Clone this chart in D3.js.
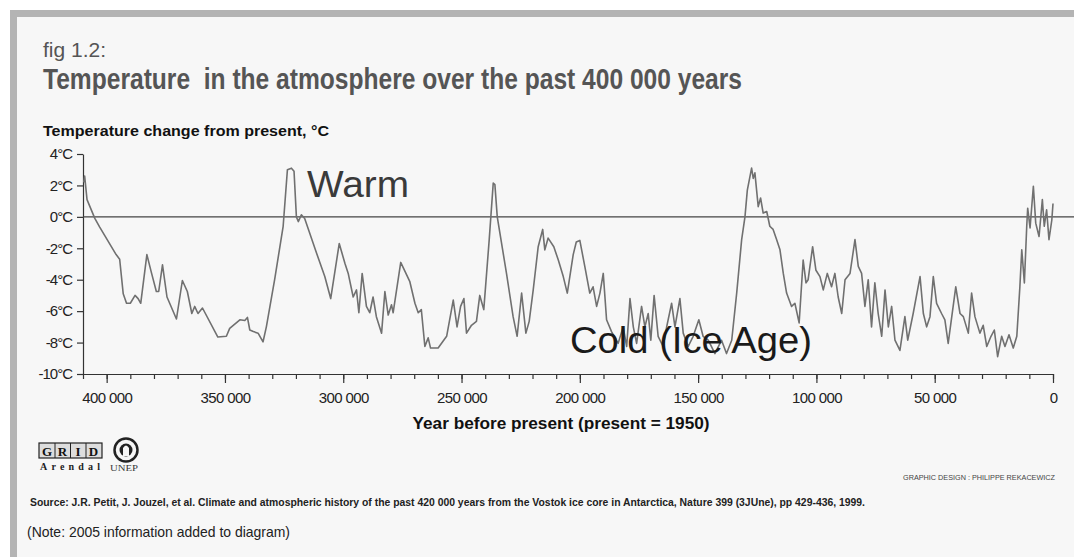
<!DOCTYPE html>
<html>
<head>
<meta charset="utf-8">
<script src="https://cdn.jsdelivr.net/npm/d3@7"></script>
<style>
  body { margin: 0; background: #fff; }
  svg { display: block; }
</style>
</head>
<body>
<svg id="grafica"></svg>
<script>
// Vostok ice core: temperature change from present
const svg_w = 1074;
const svg_h = 557;

// age in thousands of years before present
const ageKa = [409.7, 409.3, 408.3, 405, 403, 396, 394.5, 393, 391.6, 390, 388, 386.7, 385.6, 383, 381, 379, 378, 376.4, 374.5, 370.5,
  368, 365.9, 364, 362.8, 361.4, 359.5, 353, 349.4, 348, 343.7, 341.6, 340.5, 339.5, 338, 336, 333.9, 332.5, 329, 325.4, 323.6,
  321.9, 320.8, 319.8, 319, 317.7, 316.3, 311.3, 307.8, 305.3, 301.7, 299.3, 297.9, 295.8, 294.4, 293.4, 292, 290.2, 288.8, 287.4, 286,
  283.8, 282.4, 281, 279.6, 278.9, 275.7, 271.9, 269.7, 268.3, 267, 265.5, 264.1, 263.1, 259.9, 256.3, 253.5, 251.9, 250.4, 249, 247.9,
  245.8, 243.7, 242.3, 240.6, 238.3, 236.6, 235.9, 234.9, 231, 228.2, 226.5, 224.6, 222.8, 221.4, 219.7, 217.6, 215.7, 214.8, 213.4, 211,
  209.1, 207, 205.3, 202.8, 201.5, 200, 197.9, 195.8, 194.4, 192.9, 191.5, 190.1, 188.7, 186.6, 183.8, 181.7, 180.2, 178.8, 177.4, 176,
  173.9, 172.5, 171.1, 170, 168.6, 166.9, 164.8, 163.3, 161.2, 159.8, 157.7, 156.3, 154.2, 152.1, 149.7, 147.9, 145.7, 142.9, 140.1, 138,
  135.8, 133.7, 131.6, 130.2, 129.2, 127.4, 126.7, 126, 124.6, 123.6, 122.5, 121, 119.7, 118.3, 116.8, 115.4, 114, 112.6, 110.5, 109.1,
  107.3, 105.6, 104.4, 103.5, 101.6, 100.2, 98.5, 97.1, 95.4, 93.6, 92.2, 90.8, 89.3, 87.9, 85.8, 83.7, 82.3, 80.9, 79.5, 78.1,
  76.7, 75.3, 73.9, 72.4, 71, 69.6, 68.2, 66.8, 64.7, 62.6, 61.4, 59.1, 56.2, 54.8, 53.4, 52, 50.6, 49.2, 47.1, 45.7,
  44.3, 41.1, 39.3, 37.9, 35.8, 34.4, 33, 30.9, 29.5, 28, 26.2, 24.8, 23.4, 21.7, 20.3, 18.6, 16.8, 15.3, 14, 13.2,
  12.1, 11.1, 10.7, 9.7, 8.3, 7.3, 5.9, 4.5, 3.7, 2.7, 1.7, 0.5, 0];

// temperature change from present, °C
const tempC = [2.2, 2.6, 1.1, -0.1, -0.64, -2.4, -2.7, -4.9, -5.5, -5.5, -5.0, -5.2, -5.5, -2.4, -3.6, -4.75, -4.75, -3.05, -5.1, -6.5,
  -4.05, -4.75, -6.15, -5.7, -6.15, -5.8, -7.65, -7.6, -7.1, -6.55, -6.6, -6.4, -7.2, -7.3, -7.4, -7.95, -7.0, -4.0, -0.6, 3.0,
  3.1, 2.9, 0.0, -0.3, 0.13, -0.1, -2.3, -3.8, -5.2, -1.7, -2.95, -3.6, -5.1, -4.65, -6.1, -3.6, -5.7, -6.1, -5.1, -6.35,
  -7.4, -4.75, -6.25, -5.6, -6.1, -2.9, -4.1, -5.5, -6.1, -5.9, -8.25, -7.7, -8.35, -8.35, -7.6, -5.3, -7.0, -5.7, -5.2, -7.4,
  -6.9, -6.65, -5.0, -5.9, -1.45, 2.15, 2.05, 0, -3.6, -6.35, -7.6, -4.85, -7.4, -6.65, -4.65, -1.9, -0.8, -2.1, -1.35, -1.9,
  -2.75, -3.8, -4.85, -2.4, -1.6, -1.5, -3.15, -4.85, -4.45, -5.7, -4.85, -3.6, -6.55, -7.3, -8.05, -7.0, -8.25, -5.2, -7.0, -8.05,
  -5.7, -7.0, -6.15, -7.85, -5.0, -7.6, -8.25, -7.0, -5.5, -7.0, -5.2, -7.4, -8.25, -7.6, -6.55, -7.6, -7.85, -8.7, -7.85, -8.7,
  -7.85, -4.85, -1.45, 0, 1.7, 3.1, 2.45, 2.8, 0.65, 1.2, 0.24, 0.34, -0.6, -0.8, -1.45, -2.1, -3.6, -4.85, -5.7, -5.5,
  -6.75, -2.75, -4.2, -4.0, -1.9, -3.4, -3.8, -4.65, -3.6, -4.45, -3.6, -5.1, -6.15, -4.0, -3.6, -1.45, -3.15, -3.6, -5.7, -4.0,
  -7.0, -4.2, -6.15, -7.6, -4.65, -7.0, -5.7, -7.85, -8.5, -6.35, -7.85, -6.15, -3.8, -6.15, -7.0, -6.35, -3.8, -5.5, -6.15, -6.55,
  -8.05, -4.45, -6.15, -6.35, -7.4, -4.85, -6.35, -7.4, -6.9, -8.25, -7.6, -7.2, -8.9, -7.6, -8.25, -7.5, -8.35, -7.6, -4.45, -2.1,
  -4.2, -0.6, 0.55, -0.7, 1.95, -0.4, -1.25, 1.1, -0.6, 0.45, -1.45, -0.2, 0.85];

const yTicks = [4, 2, 0, -2, -4, -6, -8, -10];
const xMajorTicks = [400, 350, 300, 250, 200, 150, 100, 50, 0];
const xMinorTicks = d3.range(0, 411, 10);

const data = ageKa.map((a, i) => ({ka: a, t: tempC[i]}));

const svg = d3.select("#grafica")
  .attr("width", svg_w)
  .attr("height", svg_h)
  .style("font-family", "'Liberation Sans', Arial, sans-serif");

// frame
svg.append("rect").attr("x", 10).attr("y", 10).attr("width", svg_w - 10).attr("height", svg_h - 10).attr("fill", "#b4b4b4");
svg.append("rect").attr("x", 17).attr("y", 17).attr("width", svg_w - 17).attr("height", svg_h - 17).attr("fill", "#f7f7f7");

// titles
svg.append("text").attr("x", 43).attr("y", 57)
  .text("fig 1.2:")
  .attr("font-size", 21).attr("fill", "#555");

svg.append("text").attr("x", 43).attr("y", 89)
  .text("Temperature  in the atmosphere over the past 400 000 years")
  .attr("font-size", 29).attr("font-weight", "bold").attr("fill", "#555")
  .attr("textLength", 699).attr("lengthAdjust", "spacingAndGlyphs")
  .style("white-space", "pre");

svg.append("text").attr("x", 43).attr("y", 136)
  .text("Temperature change from present, °C")
  .attr("font-size", 14).attr("font-weight", "bold").attr("fill", "#111")
  .attr("textLength", 286).attr("lengthAdjust", "spacingAndGlyphs");

// scales
let x = d3.scaleLinear().domain([410, 0]).range([83, 1053]);
let y = d3.scaleLinear().domain([-10, 4]).range([374, 154]);

// minor ticks
svg.append("g")
  .attr("transform", `translate(0,${y(-10)})`)
  .call(d3.axisBottom(x).tickValues(xMinorTicks).tickSize(5).tickSizeOuter(0).tickFormat(""))
  .call(g => g.selectAll("line,path").attr("stroke", "#333").attr("stroke-width", 1.2));

// major ticks with labels
svg.append("g")
  .attr("transform", `translate(0,${y(-10)})`)
  .call(d3.axisBottom(x).tickValues(xMajorTicks).tickSize(9).tickSizeOuter(0).tickPadding(9)
    .tickFormat(d => d === 0 ? "0" : `${d} 000`))
  .call(g => g.select(".domain").remove())
  .call(g => g.selectAll("line").attr("stroke", "#333").attr("stroke-width", 1.2))
  .call(g => g.selectAll("text")
    .attr("font-family", "'Liberation Sans', Arial, sans-serif")
    .attr("font-size", 15).attr("fill", "#222").attr("letter-spacing", "-0.6px"));

svg.append("g")
  .attr("transform", `translate(${x(410)},0)`)
  .call(d3.axisLeft(y).tickValues(yTicks).tickSize(6).tickSizeOuter(0).tickPadding(5)
    .tickFormat(d => `${d}°C`))
  .call(g => g.selectAll("line,path").attr("stroke", "#333").attr("stroke-width", 1.2))
  .call(g => g.selectAll("text")
    .attr("font-family", "'Liberation Sans', Arial, sans-serif")
    .attr("font-size", 15).attr("fill", "#222").attr("letter-spacing", "-1px"));

// zero line
svg.append("line")
  .attr("x1", x(410)).attr("x2", svg_w)
  .attr("y1", y(0)).attr("y2", y(0))
  .attr("stroke", "#444").attr("stroke-width", 1.3);

// temperature curve
svg.append("path")
  .datum(data)
  .attr("d", d3.line().x(d => x(d.ka)).y(d => y(d.t)))
  .attr("fill", "none")
  .attr("stroke", "#707070")
  .attr("stroke-width", 1.6)
  .attr("stroke-linejoin", "round");

// annotations
svg.append("text").attr("x", 307).attr("y", 197)
  .text("Warm").attr("font-size", 37).attr("fill", "#3a3a3a")
  .attr("textLength", 102).attr("lengthAdjust", "spacingAndGlyphs");

svg.append("text").attr("x", 570).attr("y", 353)
  .text("Cold (Ice Age)").attr("font-size", 37).attr("fill", "#1a1a1a")
  .attr("textLength", 242).attr("lengthAdjust", "spacingAndGlyphs");

svg.append("text").attr("x", 561).attr("y", 429)
  .text("Year before present (present = 1950)")
  .attr("text-anchor", "middle")
  .attr("font-size", 16).attr("font-weight", "bold").attr("fill", "#111")
  .attr("textLength", 297).attr("lengthAdjust", "spacingAndGlyphs");

// GRID Arendal logo
let logo = svg.append("g");
logo.append("rect").attr("x", 39).attr("y", 443).attr("width", 63).attr("height", 15)
  .attr("fill", "#ddd").attr("stroke", "#222").attr("stroke-width", 1.2);
["G", "R", "I", "D"].forEach((c, i) => {
  logo.append("text").attr("x", 47 + i * 15.5).attr("y", 455.5)
    .text(c).attr("text-anchor", "middle")
    .attr("font-family", "'Liberation Serif', serif").attr("font-weight", "bold")
    .attr("font-size", 13).attr("fill", "#111");
  if (i > 0) logo.append("line").attr("x1", 39.5 + i * 15.5).attr("x2", 39.5 + i * 15.5)
    .attr("y1", 443).attr("y2", 458).attr("stroke", "#222");
});
logo.append("text").attr("x", 40).attr("y", 470)
  .text("Arendal").attr("font-family", "'Liberation Serif', serif").attr("font-weight", "bold")
  .attr("font-size", 10).attr("fill", "#222")
  .attr("textLength", 60).attr("lengthAdjust", "spacing");

// UNEP logo
logo.append("circle").attr("cx", 126).attr("cy", 450).attr("r", 11.5)
  .attr("fill", "none").attr("stroke", "#222").attr("stroke-width", 2.5);
logo.append("circle").attr("cx", 126).attr("cy", 450).attr("r", 6.5).attr("fill", "#222");
logo.append("path").attr("d", "M123,456 L123,448 Q126,443 129,448 L129,456 Z").attr("fill", "#f7f7f7");
logo.append("text").attr("x", 110).attr("y", 471)
  .text("UNEP").attr("font-family", "'Liberation Serif', serif")
  .attr("font-size", 8).attr("fill", "#333")
  .attr("textLength", 28).attr("lengthAdjust", "spacingAndGlyphs");

svg.append("text").attr("x", 903).attr("y", 480)
  .text("GRAPHIC DESIGN : PHILIPPE REKACEWICZ")
  .attr("font-size", 8).attr("fill", "#444")
  .attr("textLength", 152).attr("lengthAdjust", "spacingAndGlyphs");

svg.append("text").attr("x", 30).attr("y", 506)
  .text("Source: J.R. Petit, J. Jouzel, et al. Climate and atmospheric history of the past 420 000 years from the Vostok ice core in Antarctica, Nature 399 (3JUne), pp 429-436, 1999.")
  .attr("font-size", 10).attr("font-weight", "bold").attr("fill", "#222")
  .attr("textLength", 835).attr("lengthAdjust", "spacingAndGlyphs");

svg.append("text").attr("x", 27).attr("y", 537)
  .text("(Note: 2005 information added to diagram)")
  .attr("font-size", 15).attr("fill", "#222")
  .attr("textLength", 263).attr("lengthAdjust", "spacingAndGlyphs");
</script>
</body>
</html>
